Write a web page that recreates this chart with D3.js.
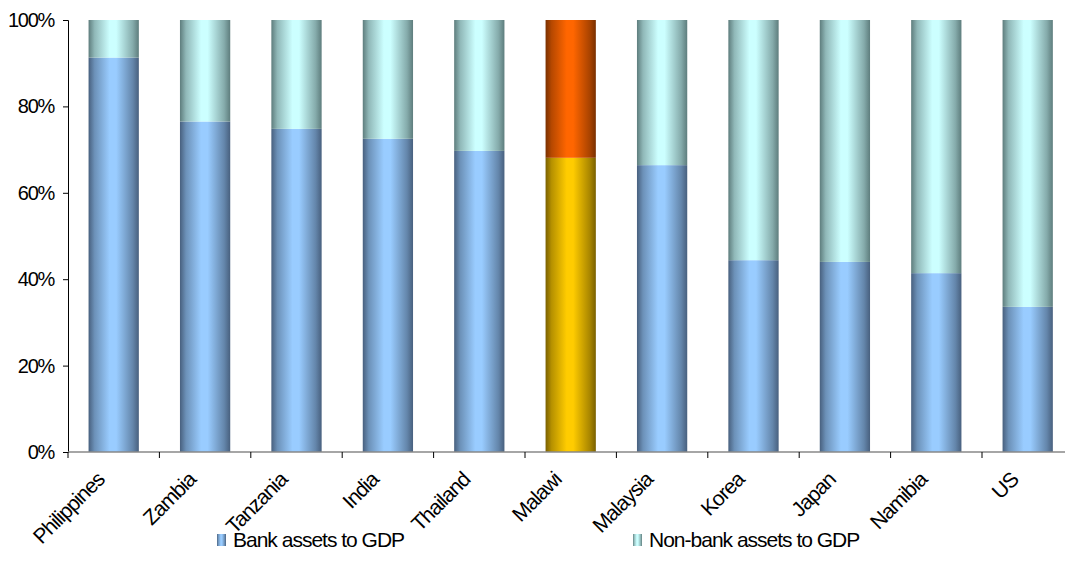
<!DOCTYPE html>
<html>
<head>
<meta charset="utf-8">
<script src="https://cdn.jsdelivr.net/npm/d3@7"></script>
<style>
  html, body { margin: 0; padding: 0; background: #fff; }
  svg text { font-family: "Liberation Sans", Arial, sans-serif; fill: #000; }
</style>
</head>
<body>
<svg id="chart" width="1065" height="574"></svg>
<script>
// Share of financial assets (% of total), by country
const countries = ["Philippines", "Zambia", "Tanzania", "India", "Thailand", "Malawi",
                   "Malaysia", "Korea", "Japan", "Namibia", "US"];
const bankShare    = [91.3, 76.5, 74.8, 72.5, 69.7, 68.1, 66.4, 44.4, 44.0, 41.4, 33.6];
const nonBankShare = bankShare.map(v => 100 - v);
const highlighted  = ["Malawi"];
const seriesNames  = ["Bank assets to GDP", "Non-bank assets to GDP"];
const yTicks       = [0, 20, 40, 60, 80, 100];

const svg = d3.select("#chart");
const margin = { left: 68, top: 20, bottom: 122 };
const bandStep = 91.4;
const plotBottom = 574 - margin.bottom;

const x = d3.scaleBand()
  .domain(countries)
  .range([margin.left, margin.left + bandStep * countries.length])
  .paddingInner(0.45)
  .paddingOuter(0.225);

const y = d3.scaleLinear().domain([0, 100]).range([plotBottom, margin.top]);

// Horizontal "cylinder" gradients: dark edges, bright core
const defs = svg.append("defs");
function cylinder(id, edge, core) {
  const g = defs.append("linearGradient").attr("id", id)
    .attr("x1", "0%").attr("x2", "100%").attr("y1", "0%").attr("y2", "0%");
  [[0, edge], [0.12, d3.interpolateRgb(edge, core)(0.45)], [0.42, core],
   [0.55, core], [0.88, d3.interpolateRgb(edge, core)(0.35)], [1, edge]]
    .forEach(([o, c]) => g.append("stop").attr("offset", o).attr("stop-color", c));
}
cylinder("gBank", "#48607e", "#99ccff");
cylinder("gNonBank", "#5e7d7d", "#ccffff");
cylinder("gBankHi", "#7a6000", "#ffcc00");
cylinder("gNonBankHi", "#7a3000", "#ff6600");

const stacked = countries.map((c, i) => ({ c, bank: bankShare[i], nonBank: nonBankShare[i] }));

const bars = svg.append("g");
stacked.forEach(d => {
  const hi = highlighted.includes(d.c);
  bars.append("rect")
    .attr("x", x(d.c)).attr("width", x.bandwidth())
    .attr("y", y(d.bank)).attr("height", y(0) - y(d.bank))
    .attr("fill", hi ? "url(#gBankHi)" : "url(#gBank)");
  bars.append("rect")
    .attr("x", x(d.c)).attr("width", x.bandwidth())
    .attr("y", y(d.bank + d.nonBank)).attr("height", y(d.bank) - y(d.bank + d.nonBank))
    .attr("fill", hi ? "url(#gNonBankHi)" : "url(#gNonBank)");
});

// Y axis
const yAxis = svg.append("g")
  .attr("transform", `translate(${margin.left},0)`)
  .call(d3.axisLeft(y).tickValues(yTicks).tickFormat(d => d + "%").tickSize(5).tickPadding(9));
yAxis.select(".domain").attr("stroke", "#000").attr("stroke-width", 1);
yAxis.selectAll(".tick line").attr("stroke", "#000");
yAxis.selectAll("text").attr("font-size", 20).attr("letter-spacing", "-1.3px");

// X axis: ticks sit on band boundaries
const xAxisG = svg.append("g").attr("transform", `translate(0,${plotBottom})`);
xAxisG.append("line")
  .attr("x1", margin.left).attr("x2", x.range()[1])
  .attr("stroke", "#888").attr("stroke-width", 1.5);
d3.range(countries.length + 1).forEach(i => {
  const bx = margin.left + i * bandStep;
  xAxisG.append("line").attr("x1", bx).attr("x2", bx).attr("y1", 0).attr("y2", 6)
    .attr("stroke", "#000");
});
countries.forEach(c => {
  const cx = x(c) + x.bandwidth() / 2 - 8;
  xAxisG.append("text")
    .attr("transform", `translate(${cx},29) rotate(-45)`)
    .attr("text-anchor", "end")
    .attr("font-size", 21).attr("letter-spacing", "-1px")
    .text(c);
});

// Legend
const legendItems = [
  { name: seriesNames[0], fill: "url(#gBank)", x: 217 },
  { name: seriesNames[1], fill: "url(#gNonBank)", x: 633 }
];
const legend = svg.append("g");
legendItems.forEach(it => {
  legend.append("rect").attr("x", it.x).attr("y", 534).attr("width", 9).attr("height", 12)
    .attr("fill", it.fill);
  legend.append("text").attr("x", it.x + 16).attr("y", 547)
    .attr("font-size", 21).attr("letter-spacing", "-1px")
    .text(it.name);
});
</script>
</body>
</html>
